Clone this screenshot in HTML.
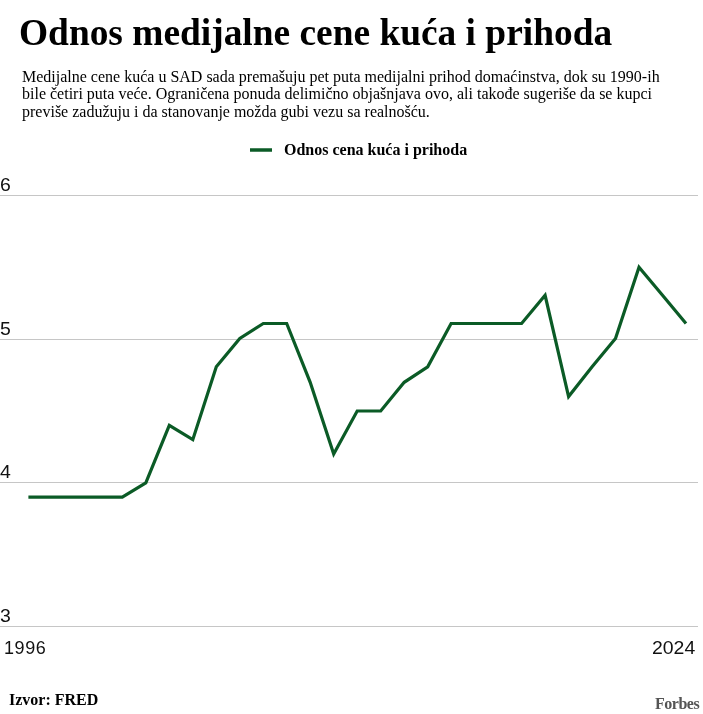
<!DOCTYPE html>
<html><head><meta charset="utf-8">
<style>
html,body{margin:0;padding:0;background:#fff;width:703px;height:714px;overflow:hidden;}
body{position:relative;}
.t{will-change:transform;}
.t{position:absolute;white-space:nowrap;}
#title{left:19px;top:14px;font:bold 37.4px/1 "Liberation Serif",serif;color:#000;}
#desc{left:22px;top:67.5px;font:16px/17.4px "Liberation Serif",serif;color:#000;white-space:normal;width:680px;}
#legend{left:284px;top:142px;font:bold 16px/1 "Liberation Serif",serif;color:#000;}
.yl{left:0px;transform:scaleX(1.08);transform-origin:0 0;font:18px/1 "Liberation Sans",sans-serif;color:#111;}
.xl{font:18px/1 "Liberation Sans",sans-serif;color:#111;}
#src{left:8.5px;top:692.3px;font:bold 16px/1 "Liberation Serif",serif;color:#000;}
#forbes{left:655px;top:695.5px;font:bold 16px/1 "Liberation Serif",serif;color:#555;letter-spacing:-0.5px;}
svg{position:absolute;left:0;top:0;}
</style></head><body>
<svg width="703" height="714">
  <g stroke="#c6c6c6" stroke-width="1">
    <line x1="0" y1="195.5" x2="698" y2="195.5"/>
    <line x1="0" y1="339.5" x2="698" y2="339.5"/>
    <line x1="0" y1="482.5" x2="698" y2="482.5"/>
    <line x1="0" y1="626.5" x2="698" y2="626.5"/>
  </g>
  <line x1="250" y1="150" x2="272" y2="150" stroke="#0b5b26" stroke-width="3.5"/>
  <polyline fill="none" stroke="#0b5b26" stroke-width="3.2" stroke-linejoin="miter" points="28.4,497.2 51.9,497.2 75.4,497.2 98.9,497.2 122.3,497.2 145.8,482.8 169.3,425.4 192.8,439.7 216.3,366.8 239.8,338.5 263.3,323.5 286.7,323.5 310.2,382.3 333.7,454.1 357.2,411.0 380.7,411.0 404.2,382.3 427.7,366.8 451.1,323.5 474.6,323.5 498.1,323.5 521.6,323.5 545.1,295.3 568.6,396.6 592.1,366.8 615.5,338.5 639.0,267.3 662.5,295.3 686.0,323.5"/>
</svg>
<div class="t" id="title">Odnos medijalne cene kuća i prihoda</div>
<div class="t" id="desc">Medijalne cene kuća u SAD sada premašuju pet puta medijalni prihod domaćinstva, dok su 1990-ih<br>bile četiri puta veće. Ograničena ponuda delimično objašnjava ovo, ali takođe sugeriše da se kupci<br>previše zadužuju i da stanovanje možda gubi vezu sa realnošću.</div>
<div class="t" id="legend">Odnos cena kuća i prihoda</div>
<div class="t yl" style="top:176px">6</div>
<div class="t yl" style="top:320px">5</div>
<div class="t yl" style="top:463px">4</div>
<div class="t yl" style="top:607px">3</div>
<div class="t xl" style="left:4px;top:639px;letter-spacing:0.6px">1996</div>
<div class="t xl" style="left:652px;top:638.6px;transform:scaleX(1.08);transform-origin:0 0">2024</div>
<div class="t" id="src">Izvor: FRED</div>
<div class="t" id="forbes">Forbes</div>
</body></html>
